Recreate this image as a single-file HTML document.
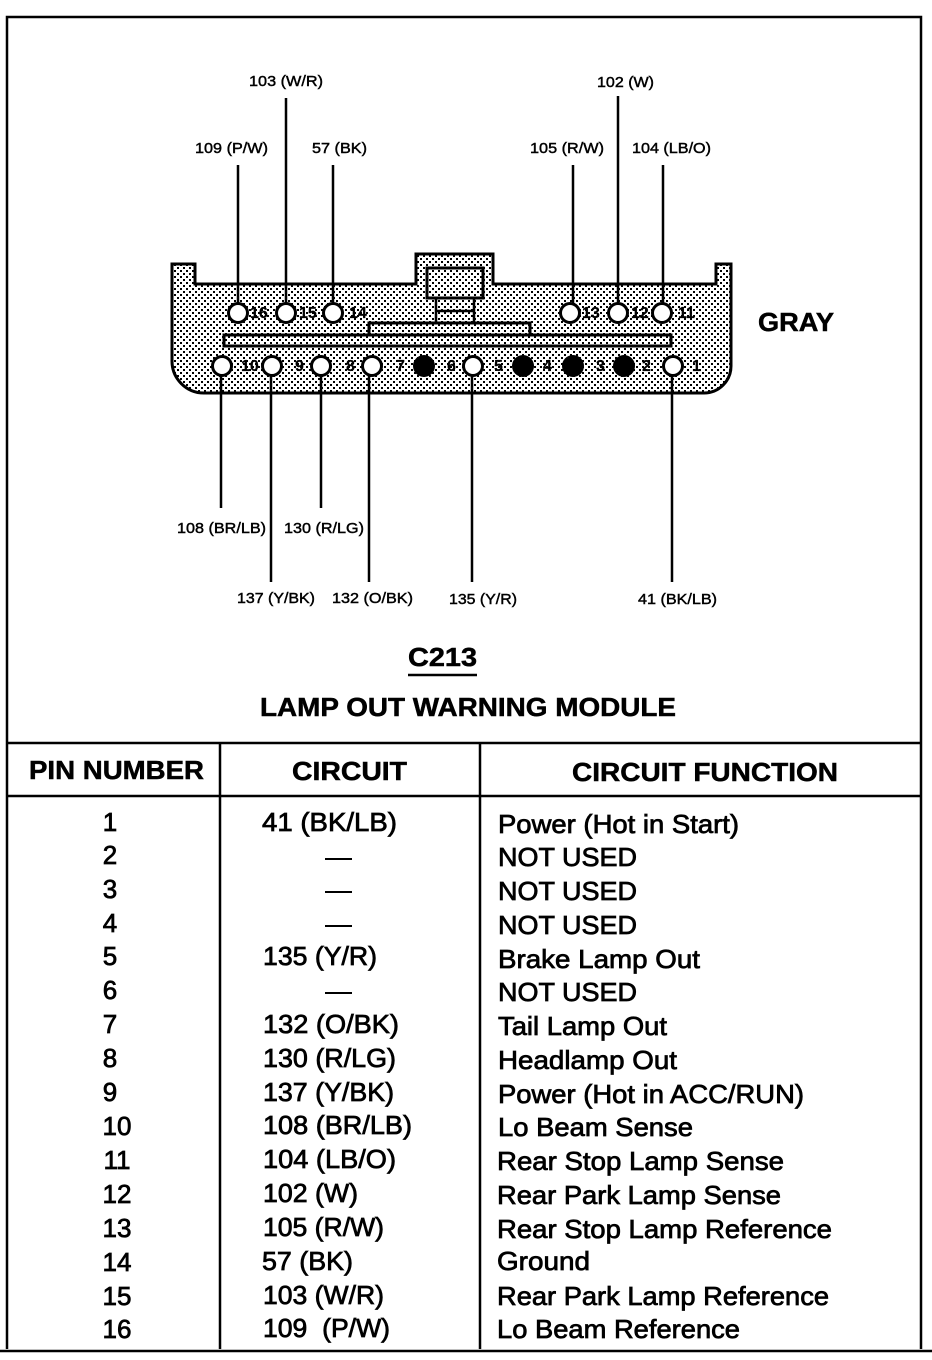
<!DOCTYPE html>
<html><head><meta charset="utf-8"><style>
html,body{margin:0;padding:0;background:#fff}
svg{display:block}
text{font-family:"Liberation Sans",sans-serif;fill:#000;stroke:#000;stroke-width:.6px}
.s{font-size:15px;stroke-width:.45px}
.b{font-size:26px;font-weight:bold;stroke-width:.5px}
.t{font-size:26px;stroke-width:.75px}
.p{font-size:16px;font-weight:bold;stroke-width:.2px;fill:#000}
</style></head><body>
<svg width="932" height="1360" viewBox="0 0 932 1360" xmlns="http://www.w3.org/2000/svg">
<defs><pattern id="h" width="6" height="6" patternUnits="userSpaceOnUse">
<rect width="6" height="6" fill="#fff"/><rect x="0" y="0" width="2" height="2" fill="#000"/><rect x="3" y="3" width="2" height="2" fill="#000"/>
</pattern></defs>
<rect width="932" height="1360" fill="#fff"/>
<!-- frame -->
<g fill="none" stroke="#000" stroke-width="2.5">
<path d="M7 1349V17H921V1349"/>
<path d="M7 743H921" />
<path d="M7 796H921" />
<path d="M220 743V1349M480 743V1349"/>
<path d="M0 1351H932" />
</g>
<!-- connector -->
<path d="M172 264H195V284H416V254H493V284H716V264H731V366A27 27 0 0 1 704 393H204A32 32 0 0 1 172 361Z" fill="url(#h)" stroke="#000" stroke-width="3"/>
<g fill="none" stroke="#000" stroke-width="3">
<path d="M427 268H483V298H427Z" fill="url(#h)"/>
<path d="M436 298V323M474 298V323M436 311H474" stroke-width="2.5"/>
<path d="M369 335V323H530V335" fill="url(#h)"/>
<rect x="224" y="335" width="447" height="11" fill="url(#h)"/>
</g>
<!-- wires -->
<g stroke="#000" stroke-width="2.5">
<path d="M238 165V304M286 98V304M333 165V304M573 165V304M618 96V304M663 165V304"/>
<path d="M221 376V508M271 376V582M321 376V508M369 376V582M472 376V582M672 376V582"/>
</g>
<!-- pins -->
<g fill="#fff" stroke="#000" stroke-width="3">
<circle cx="238" cy="313" r="9.5"/><circle cx="286" cy="313" r="9.5"/><circle cx="333" cy="313" r="9.5"/>
<circle cx="570" cy="313" r="9.5"/><circle cx="618" cy="313" r="9.5"/><circle cx="662" cy="313" r="9.5"/>
<circle cx="222" cy="366" r="9.5"/><circle cx="272" cy="366" r="9.5"/><circle cx="321" cy="366" r="9.5"/><circle cx="372" cy="366" r="9.5"/>
<circle cx="473" cy="366" r="9.5"/><circle cx="673" cy="366" r="9.5"/>
</g>
<g fill="#000"><circle cx="424" cy="366" r="11"/><circle cx="523" cy="366" r="11"/><circle cx="573" cy="366" r="11"/><circle cx="624" cy="366" r="11"/></g>
<!-- pin numbers -->
<g>
<text class="p" x="250" y="318">16</text><text class="p" x="299" y="318">15</text><text class="p" x="349" y="318">14</text>
<text class="p" x="582" y="318">13</text><text class="p" x="631" y="318">12</text><text class="p" x="678" y="318">11</text>
<text class="p" x="241" y="371">10</text><text class="p" x="295" y="371">9</text><text class="p" x="346" y="371">8</text><text class="p" x="396" y="371">7</text>
<text class="p" x="447" y="371">6</text><text class="p" x="494" y="371">5</text><text class="p" x="543" y="371">4</text><text class="p" x="596" y="371">3</text><text class="p" x="642" y="371">2</text><text class="p" x="692" y="371">1</text>
</g>
<!-- wire labels -->
<g>
<text class="s" x="249" y="86" textLength="74" lengthAdjust="spacingAndGlyphs">103 (W/R)</text>
<text class="s" x="597" y="87" textLength="57" lengthAdjust="spacingAndGlyphs">102 (W)</text>
<text class="s" x="195" y="153" textLength="73" lengthAdjust="spacingAndGlyphs">109 (P/W)</text>
<text class="s" x="312" y="153" textLength="55" lengthAdjust="spacingAndGlyphs">57 (BK)</text>
<text class="s" x="530" y="153" textLength="74" lengthAdjust="spacingAndGlyphs">105 (R/W)</text>
<text class="s" x="632" y="153" textLength="79" lengthAdjust="spacingAndGlyphs">104 (LB/O)</text>
<text class="s" x="177" y="533" textLength="89" lengthAdjust="spacingAndGlyphs">108 (BR/LB)</text>
<text class="s" x="284" y="533" textLength="80" lengthAdjust="spacingAndGlyphs">130 (R/LG)</text>
<text class="s" x="237" y="603" textLength="78" lengthAdjust="spacingAndGlyphs">137 (Y/BK)</text>
<text class="s" x="332" y="603" textLength="81" lengthAdjust="spacingAndGlyphs">132 (O/BK)</text>
<text class="s" x="449" y="604" textLength="68" lengthAdjust="spacingAndGlyphs">135 (Y/R)</text>
<text class="s" x="638" y="604" textLength="79" lengthAdjust="spacingAndGlyphs">41 (BK/LB)</text>
</g>
<text class="b" x="758" y="331" textLength="76" lengthAdjust="spacingAndGlyphs">GRAY</text>
<text class="b" x="408" y="666" textLength="69" lengthAdjust="spacingAndGlyphs">C213</text>
<path d="M408 675H477" stroke="#000" stroke-width="2.5"/>
<text class="b" x="260" y="716" textLength="416" lengthAdjust="spacingAndGlyphs">LAMP OUT WARNING MODULE</text>
<!-- table text shifted up by one pixel -->
<g transform="translate(0,-1)">
<text class="b" x="29" y="780" textLength="175" lengthAdjust="spacingAndGlyphs">PIN NUMBER</text>
<text class="b" x="292" y="781" textLength="115" lengthAdjust="spacingAndGlyphs">CIRCUIT</text>
<text class="b" x="572" y="782" textLength="266" lengthAdjust="spacingAndGlyphs">CIRCUIT FUNCTION</text>
<!-- pins column -->
<g text-anchor="middle">
<text class="t" x="110" y="832">1</text><text class="t" x="110" y="865">2</text><text class="t" x="110" y="899">3</text><text class="t" x="110" y="933">4</text><text class="t" x="110" y="966">5</text><text class="t" x="110" y="1000">6</text><text class="t" x="110" y="1034">7</text><text class="t" x="110" y="1068">8</text><text class="t" x="110" y="1102">9</text>
<text class="t" x="117" y="1136">10</text><text class="t" x="117" y="1170">11</text><text class="t" x="117" y="1204">12</text><text class="t" x="117" y="1238">13</text><text class="t" x="117" y="1272">14</text><text class="t" x="117" y="1306">15</text><text class="t" x="117" y="1339">16</text>
</g>
<!-- circuit column -->
<text class="t" x="262" y="832" textLength="135" lengthAdjust="spacingAndGlyphs">41 (BK/LB)</text>
<path d="M325 860H352M325 893H352M325 927H352M325 994H352" stroke="#000" stroke-width="2"/>
<text class="t" x="263" y="966" textLength="114" lengthAdjust="spacingAndGlyphs">135 (Y/R)</text>
<text class="t" x="263" y="1034" textLength="136" lengthAdjust="spacingAndGlyphs">132 (O/BK)</text>
<text class="t" x="263" y="1068" textLength="133" lengthAdjust="spacingAndGlyphs">130 (R/LG)</text>
<text class="t" x="263" y="1102" textLength="131" lengthAdjust="spacingAndGlyphs">137 (Y/BK)</text>
<text class="t" x="263" y="1135" textLength="149" lengthAdjust="spacingAndGlyphs">108 (BR/LB)</text>
<text class="t" x="263" y="1169" textLength="133" lengthAdjust="spacingAndGlyphs">104 (LB/O)</text>
<text class="t" x="263" y="1203" textLength="95" lengthAdjust="spacingAndGlyphs">102 (W)</text>
<text class="t" x="263" y="1237" textLength="121" lengthAdjust="spacingAndGlyphs">105 (R/W)</text>
<text class="t" x="262" y="1271" textLength="91" lengthAdjust="spacingAndGlyphs">57 (BK)</text>
<text class="t" x="263" y="1305" textLength="121" lengthAdjust="spacingAndGlyphs">103 (W/R)</text>
<text class="t" x="263" y="1338" textLength="127" lengthAdjust="spacingAndGlyphs">109&#160;&#160;(P/W)</text>
<!-- function column -->
<text class="t" x="498" y="834" textLength="241" lengthAdjust="spacingAndGlyphs">Power (Hot in Start)</text>
<text class="t" x="498" y="867" textLength="139" lengthAdjust="spacingAndGlyphs">NOT USED</text>
<text class="t" x="498" y="901" textLength="139" lengthAdjust="spacingAndGlyphs">NOT USED</text>
<text class="t" x="498" y="935" textLength="139" lengthAdjust="spacingAndGlyphs">NOT USED</text>
<text class="t" x="498" y="969" textLength="202" lengthAdjust="spacingAndGlyphs">Brake Lamp Out</text>
<text class="t" x="498" y="1002" textLength="139" lengthAdjust="spacingAndGlyphs">NOT USED</text>
<text class="t" x="498" y="1036" textLength="169" lengthAdjust="spacingAndGlyphs">Tail Lamp Out</text>
<text class="t" x="498" y="1070" textLength="179" lengthAdjust="spacingAndGlyphs">Headlamp Out</text>
<text class="t" x="498" y="1104" textLength="306" lengthAdjust="spacingAndGlyphs">Power (Hot in ACC/RUN)</text>
<text class="t" x="498" y="1137" textLength="195" lengthAdjust="spacingAndGlyphs">Lo Beam Sense</text>
<text class="t" x="497" y="1171" textLength="287" lengthAdjust="spacingAndGlyphs">Rear Stop Lamp Sense</text>
<text class="t" x="497" y="1205" textLength="284" lengthAdjust="spacingAndGlyphs">Rear Park Lamp Sense</text>
<text class="t" x="497" y="1239" textLength="335" lengthAdjust="spacingAndGlyphs">Rear Stop Lamp Reference</text>
<text class="t" x="497" y="1271" textLength="93" lengthAdjust="spacingAndGlyphs">Ground</text>
<text class="t" x="497" y="1306" textLength="332" lengthAdjust="spacingAndGlyphs">Rear Park Lamp Reference</text>
<text class="t" x="497" y="1339" textLength="243" lengthAdjust="spacingAndGlyphs">Lo Beam Reference</text>
</g>
</svg>
</body></html>
